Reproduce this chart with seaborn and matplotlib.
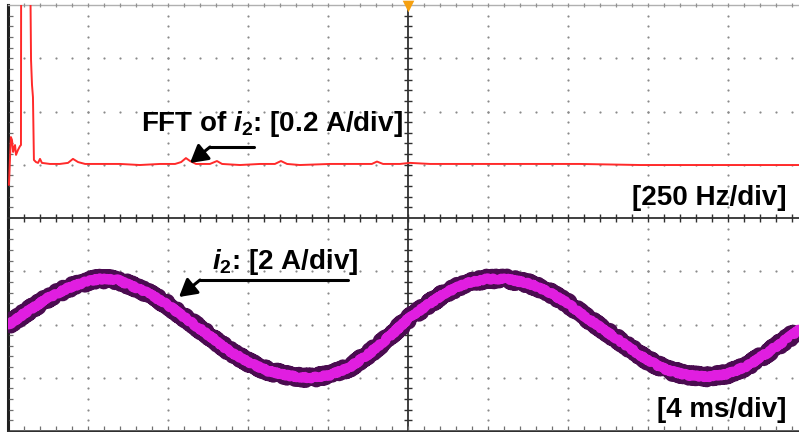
import matplotlib
matplotlib.use("Agg")
import matplotlib.pyplot as plt
import seaborn as sns
import numpy as np
import pandas as pd

# ---------------- data ----------------
fft_hz = [3, 6, 9, 12.5, 16, 19, 22, 25, 31, 37.5, 40.5, 41.5, 56, 68, 69, 72, 75, 78, 81,
          87.5, 94, 100, 106, 131, 162, 187.5, 203, 219, 241, 287.5, 350, 412, 475, 522,
          541, 556, 569, 587.5, 631, 653, 669, 725, 787.5, 834, 853, 872, 912, 1006, 1100,
          1137, 1153, 1172, 1225, 1256, 1319, 1475, 1600, 1787, 1975, 2162, 2500]
fft_amp = [-0.076, 0.018, 0.104, 0.093, 0.048, 0.063, 0.074, 0.037, 0.055, 0.07, 0.074,
           1.2, 1.3, 1.2, 0.8, 0.393, 0.30, 0.254, 0.018, 0.010, 0.007, 0.022, 0.007, 0.003,
           0.003, 0.007, 0.022, 0.010, 0.003, 0.003, 0.003, -0.001, 0.003, 0.003, 0.010,
           0.025, 0.014, 0.003, 0.003, 0.014, 0.003, -0.001, 0.003, 0.003, 0.014, 0.003,
           -0.001, 0.003, 0.003, 0.003, 0.012, 0.003, 0.003, 0.007, 0.003, 0.003, 0.003,
           0.003, -0.001, -0.001, -0.001]

t_ms = [0, 1, 2, 3, 4, 4.6, 5.5, 6.1, 7, 8, 9, 10, 11, 12, 13, 14.1, 15.1, 16.1, 17.1, 18.1,
        19.1, 19.95, 20.95, 21.95, 22.95, 23.95, 24.95, 25.95, 26.95, 27.95, 28.95, 29.95,
        30.95, 31.95, 32.95, 33.95, 34.95, 35.95, 36.95, 37.95, 38.95, 39.55]
i2_amp = [-0.02, 0.51, 1.00, 1.37, 1.63, 1.71, 1.67, 1.48, 1.18, 0.73, 0.17, -0.39, -0.96,
          -1.41, -1.75, -1.93, -2.01, -1.90, -1.60, -1.07, -0.43, 0.17, 0.73, 1.22, 1.56,
          1.71, 1.71, 1.56, 1.26, 0.81, 0.24, -0.28, -0.81, -1.33, -1.71, -1.90, -1.97,
          -1.86, -1.56, -1.07, -0.54, -0.21]

fft_label = r"FFT of $\mathit{i}_2$: [0.2 A/div]"
i2_label = r"$\mathit{i}_2$: [2 A/div]"
freq_scale = "[250 Hz/div]"
time_scale = "[4 ms/div]"

# ---------------- style ----------------
sns.set_style("white")
plt.rcParams["font.family"] = ["Liberation Sans", "DejaVu Sans"]
plt.rcParams["mathtext.fontset"] = "custom"
plt.rcParams["mathtext.rm"] = "Liberation Sans:bold"
plt.rcParams["mathtext.it"] = "Liberation Sans:italic:bold"
plt.rcParams["mathtext.bf"] = "Liberation Sans:bold"

W, H = 799, 432
fig = plt.figure(figsize=(W / 100, H / 100), dpi=100)
fig.patch.set_facecolor("white")

x0, x1 = 8, 808
ytop, ymid, ybot = 5, 218, 431
ax_top = fig.add_axes([x0 / W, (H - ymid) / H, (x1 - x0) / W, (ymid - ytop) / H])
ax_bot = fig.add_axes([x0 / W, (H - ybot) / H, (x1 - x0) / W, (ybot - ymid) / H])

grid_col = "#8a8a8a"
dark = "#303030"


def draw_grid(ax, ny):
    tr = ax.transAxes
    for k in range(1, 10):
        if k == 5:
            continue
        ys = np.arange(1, ny * 5) / (ny * 5)
        ax.scatter(np.full_like(ys, k / 10), ys, s=2.5, color=grid_col, transform=tr,
                   linewidths=0, zorder=1)
    for k in range(1, ny):
        xs = np.arange(1, 50) / 50
        ax.scatter(xs, np.full_like(xs, k / ny), s=2.5, color=grid_col, transform=tr,
                   linewidths=0, zorder=1)
    xl = ax.get_xlim()
    ax.axvline(0.5 * (xl[1] - xl[0]) + xl[0], color=dark, lw=1.3, zorder=2)
    ys = np.arange(1, ny * 5) / (ny * 5)
    ax.scatter(np.full_like(ys, 0.5), ys, marker="_", s=30, color=dark, transform=tr,
               linewidths=1.0, zorder=2)
    for side in ["top", "right", "bottom", "left"]:
        ax.spines[side].set_visible(False)
    ax.set_xticks([])
    ax.set_yticks([])
    ax.set_facecolor("none")


# ---------------- top: FFT ----------------
df_fft = pd.DataFrame({"f": fft_hz, "a": fft_amp})
ax_top.set_xlim(0, 2500)
ax_top.set_ylim(-0.2, 0.6)
draw_grid(ax_top, 4)
sns.lineplot(data=df_fft, x="f", y="a", ax=ax_top, color="#ff2a2a", lw=1.4,
             estimator=None, sort=False, zorder=4)
ax_top.set_xlabel("")
ax_top.set_ylabel("")
ax_top.spines["top"].set_visible(True)
ax_top.spines["top"].set_color("#b0b0b0")
ax_top.spines["top"].set_linewidth(1.0)
xs = np.arange(1, 50) / 50
ax_top.scatter(xs, np.full_like(xs, 1.0), marker="|", s=10, color="#909090",
               transform=ax_top.transAxes, linewidths=0.9, clip_on=False, zorder=3)
ax_top.scatter([0.5], [0.995], marker="v", s=70, color="#f5a010",
               transform=ax_top.transAxes, clip_on=False, zorder=6, linewidths=0)

# ---------------- bottom: i2 ----------------
df_i2 = pd.DataFrame({"t": t_ms, "i": i2_amp})
ax_bot.set_xlim(0, 40)
ax_bot.set_ylim(-4, 4)
draw_grid(ax_bot, 4)
sns.lineplot(data=df_i2, x="t", y="i", ax=ax_bot, color="#4a0c50", lw=11,
             estimator=None, sort=False, zorder=4)
outer = ax_bot.lines[-1]
outer.set_sketch_params(scale=2.8, length=2.5, randomness=6)
outer.set_solid_capstyle("butt")
sns.lineplot(data=df_i2, x="t", y="i", ax=ax_bot, color="#e01ee0", lw=6.5,
             estimator=None, sort=False, zorder=5)
inner = ax_bot.lines[-1]
inner.set_sketch_params(scale=1.2, length=3, randomness=6)
ax_bot.set_xlabel("")
ax_bot.set_ylabel("")

ax_bot.spines["top"].set_visible(True)
ax_bot.spines["top"].set_color(dark)
ax_bot.spines["top"].set_linewidth(1.3)
ax_bot.scatter(xs, np.full_like(xs, 1.0), marker="|", s=30, color=dark,
               transform=ax_bot.transAxes, linewidths=1.0, clip_on=False, zorder=3)
ax_bot.spines["bottom"].set_visible(True)
ax_bot.spines["bottom"].set_color(dark)
ax_bot.spines["bottom"].set_linewidth(1.8)
ax_bot.scatter(xs, np.full_like(xs, 0.012), marker="|", s=12, color="#707070",
               transform=ax_bot.transAxes, linewidths=0.9, clip_on=False, zorder=3)

for ax in (ax_top, ax_bot):
    ax.spines["left"].set_visible(True)
    ax.spines["left"].set_color("#202020")
    ax.spines["left"].set_linewidth(2.2)
    ys = np.arange(1, 20) / 20
    ax.scatter(np.full_like(ys, 0.004), ys, marker="_", s=12, color="#707070",
               transform=ax.transAxes, linewidths=0.9, clip_on=False, zorder=3)

# ---------------- annotations ----------------
fs = 20
fig.text(141 / W, 1 - 131 / H, fft_label, fontsize=fs, fontweight="bold", ha="left",
         va="baseline", color="black")
fig.text(212 / W, 1 - 269 / H, i2_label, fontsize=fs, fontweight="bold", ha="left",
         va="baseline", color="black")
fig.text(786 / W, 1 - 205 / H, freq_scale, fontsize=fs, fontweight="bold", ha="right",
         va="baseline", color="black")
fig.text(786 / W, 1 - 417 / H, time_scale, fontsize=fs, fontweight="bold", ha="right",
         va="baseline", color="black")


def elbow_arrow(p_start, p_elbow, p_tip):
    fx = lambda p: (p[0] / W, 1 - p[1] / H)
    fig.add_artist(plt.Line2D([fx(p_start)[0], fx(p_elbow)[0]],
                              [fx(p_start)[1], fx(p_elbow)[1]],
                              color="black", lw=2.2, transform=fig.transFigure))
    fig.add_artist(matplotlib.patches.FancyArrowPatch(
        fx(p_elbow), fx(p_tip), transform=fig.transFigure,
        arrowstyle="-|>,head_length=7,head_width=4", color="black", lw=2.2,
        shrinkA=0, shrinkB=0, mutation_scale=1.5))


elbow_arrow((254, 147), (210, 147), (190, 163))
elbow_arrow((348, 280), (200, 280), (179, 297))

fig.savefig("out.png", dpi=100, facecolor="white")
